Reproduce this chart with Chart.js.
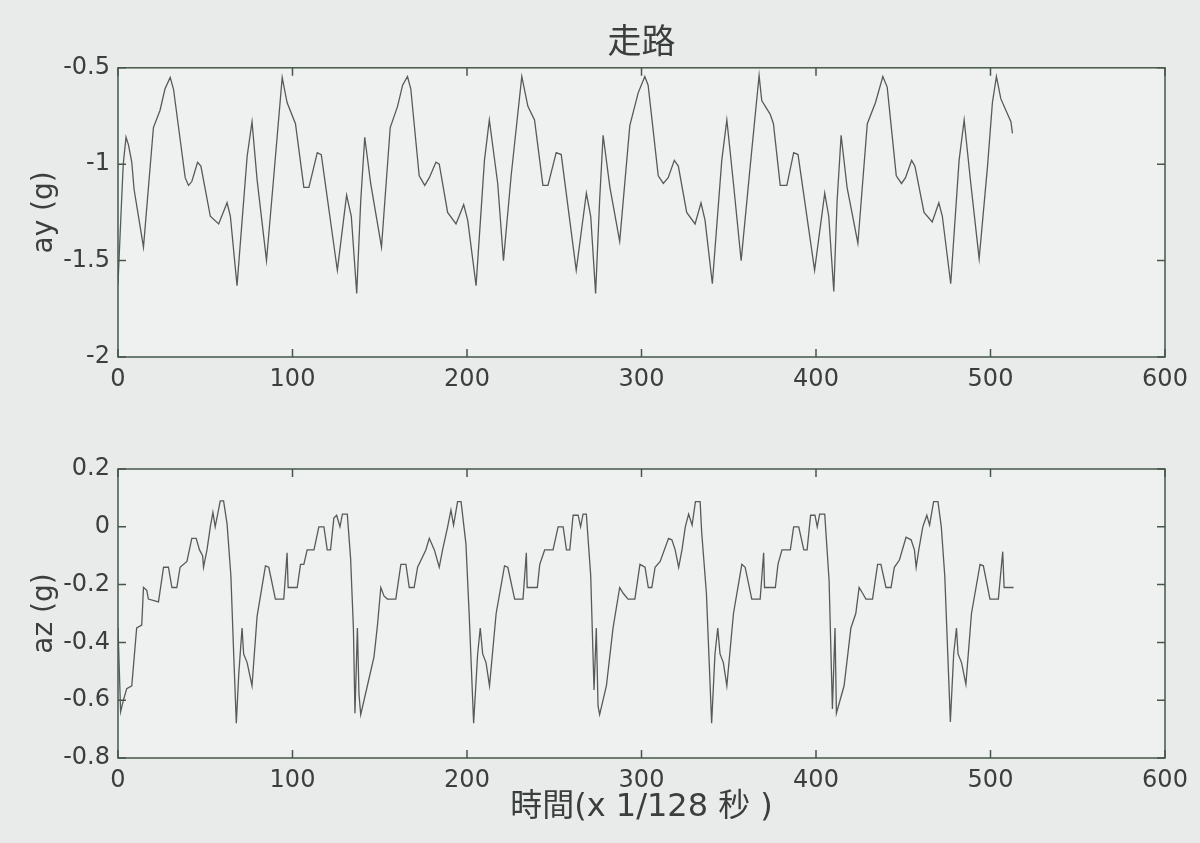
<!DOCTYPE html>
<html>
<head>
<meta charset="utf-8">
<script src="https://cdn.jsdelivr.net/npm/chart.js@4.4.0/dist/chart.umd.min.js"></script>
<style>
body{margin:0;background:#e8ebe9;width:1200px;height:843px;overflow:hidden;position:relative}
canvas{position:absolute;left:0}
#c1{top:0}
#c2{top:420px}
</style>
</head>
<body>
<canvas id="c1" width="1200" height="420"></canvas>
<canvas id="c2" width="1200" height="423"></canvas>
<script>
// 走路 - ay / az, samples at 128 Hz
var title = '走路'
var xTitle = '時間(x 1/128 秒 )'
var xTicks = [0, 100, 200, 300, 400, 500, 600]
var ayTicks = [-2, -1.5, -1, -0.5]
var azTicks = [-0.8, -0.6, -0.4, -0.2, 0, 0.2]

// ay (g) - vertices
var ayT = [0, 2, 3, 4.6, 6, 7.9, 9.2, 14.6, 20.3, 24.1, 26.9, 29.9, 31.8, 38.5, 40.4, 42.3, 45.6, 47.5, 52.9, 57.7,
	62.5, 64.4, 68.2, 74, 76.8, 79.7, 85.1, 89.3, 94.1, 96.9, 101.7, 106.5, 109.4, 114.2, 116.5, 125.7, 131, 133.7, 136.8, 139.1,
	141.4, 144.8, 151, 156, 160.2, 163.1, 165.9, 167.8, 172.6, 175.8, 178.4, 182.2, 184.1, 188.9, 193.7, 198.1, 200.4, 205.2, 210, 212.8,
	217.6, 220.9, 225.3, 231.4, 234.9, 238.7, 243.5, 246.4, 251.1, 254, 262.6, 268.4, 270.9, 273.7, 276, 278, 281.9, 287.5, 293.3, 298.1,
	301.9, 303.8, 309.6, 312.5, 315.3, 318.8, 321.1, 325.9, 330.7, 334.1, 336.4, 340.6, 346, 348.9, 352.7, 357.1, 362.3, 367.4, 368.9, 373.7,
	375.6, 379.5, 383.3, 387.2, 389.7, 399.2, 405, 407.3, 410.2, 412.1, 414.4, 417.8, 424, 429.4, 434.1, 438.3, 440.8, 446, 449, 451.3,
	454.8, 456.7, 461.9, 466.6, 470.4, 472.4, 477.2, 482, 484.9, 488.7, 493.5, 498.3, 501.1, 503.4, 505.9, 508.8, 511.7, 512.6]
var ay = [-1.62, -1.2, -1.0, -0.86, -0.9, -0.99, -1.13, -1.43, -0.81, -0.72, -0.61, -0.55, -0.61, -1.07, -1.11, -1.09, -0.99, -1.01, -1.27, -1.31,
	-1.2, -1.27, -1.63, -0.96, -0.78, -1.08, -1.5, -1.06, -0.55, -0.68, -0.79, -1.12, -1.12, -0.94, -0.95, -1.55, -1.16, -1.27, -1.67, -1.19,
	-0.86, -1.1, -1.43, -0.81, -0.7, -0.59, -0.545, -0.61, -1.06, -1.11, -1.07, -0.99, -1.0, -1.25, -1.31, -1.21, -1.29, -1.63, -0.98, -0.77,
	-1.1, -1.5, -1.06, -0.545, -0.7, -0.77, -1.11, -1.11, -0.94, -0.95, -1.55, -1.15, -1.27, -1.67, -1.19, -0.85, -1.12, -1.4, -0.8, -0.63,
	-0.545, -0.59, -1.06, -1.1, -1.07, -0.98, -1.01, -1.25, -1.31, -1.2, -1.29, -1.62, -0.98, -0.77, -1.1, -1.5, -1.01, -0.54, -0.67, -0.74,
	-0.79, -1.11, -1.11, -0.94, -0.95, -1.55, -1.15, -1.27, -1.66, -1.19, -0.85, -1.12, -1.41, -0.79, -0.68, -0.545, -0.6, -1.06, -1.1, -1.07,
	-0.98, -1.01, -1.25, -1.3, -1.2, -1.27, -1.62, -0.98, -0.77, -1.1, -1.49, -1.01, -0.68, -0.545, -0.66, -0.72, -0.78, -0.84]

// az (g)
var azT = [0, 1.5, 3.1, 5, 7.9, 10.7, 13.6, 14.6, 16.5, 17.4, 23.2, 26.1, 28.9, 30.9, 33.7, 35.6, 39.5, 42.3, 44.8, 46.7,
	48.5, 49, 51, 52.9, 54.4, 55.7, 58.6, 60.5, 62.5, 64.7, 66.3, 67.8, 69.2, 70.5, 71.1, 72, 74, 76.8, 79.7, 84.5,
	86.4, 90.2, 95, 96.9, 97.5, 102.7, 104.6, 106.5, 108.4, 112.3, 115.1, 118, 119.9, 121.8, 123.7, 125.3, 127.2, 128.6, 131.4, 133.3,
	134.9, 135.8, 137.2, 138.1, 139.1, 142.9, 146.7, 148.7, 150.6, 152.5, 154.4, 159.2, 162.1, 165, 166.9, 169.7, 171.7, 176.4, 178.4, 181.3,
	184.1, 186, 188.9, 190.8, 192.3, 194.6, 196.6, 199.4, 201.3, 203.8, 206.1, 207.6, 209, 210.9, 212.9, 216.7, 221.5, 223.4, 227.3, 232.1,
	234, 234.5, 240.3, 241.7, 244.5, 249.3, 252.2, 255.1, 257, 258.9, 260.8, 263.7, 265.1, 266.5, 268.4, 270.9, 272.8, 274.1, 275.1, 276,
	279.9, 283.7, 287.5, 289.5, 292.3, 296.2, 299.1, 302, 303.9, 305.9, 307.8, 310.7, 315.5, 317.4, 319.3, 321.3, 323.2, 325.1, 327, 329,
	330.9, 333.6, 334.5, 337.2, 340.2, 342.1, 343.7, 345, 346.9, 348.9, 352.7, 357.5, 359.4, 363.2, 368, 370, 370.5, 376.7, 378.2, 380.5,
	385.3, 387.2, 390.1, 393, 394.9, 396.9, 399.4, 400.7, 402.1, 405, 407.5, 409.4, 410.9, 411.7, 416.1, 420, 422.8, 424.7, 426.7, 428.6,
	432.4, 435.3, 437.2, 440.1, 443, 444.9, 447.8, 451.6, 454.5, 456.4, 457.4, 458.9, 461.2, 463.5, 465.1, 467.4, 469.9, 471.8, 473.8, 477,
	478.9, 480.5, 481.4, 483.4, 485.9, 489.1, 494, 495.9, 499.7, 504.5, 507, 507.8, 513.2]
var az = [-0.35, -0.64, -0.6, -0.56, -0.55, -0.35, -0.34, -0.21, -0.22, -0.25, -0.26, -0.14, -0.14, -0.21, -0.21, -0.14, -0.12, -0.04, -0.04, -0.08,
	-0.1, -0.14, -0.08, 0, 0.05, 0, 0.09, 0.09, 0.01, -0.17, -0.44, -0.68, -0.51, -0.4, -0.35, -0.44, -0.47, -0.55, -0.31, -0.135,
	-0.14, -0.25, -0.25, -0.09, -0.21, -0.21, -0.13, -0.13, -0.08, -0.08, 0, 0, -0.08, -0.08, 0.03, 0.04, 0, 0.044, 0.044, -0.11,
	-0.35, -0.645, -0.35, -0.58, -0.65, -0.55, -0.45, -0.34, -0.21, -0.24, -0.25, -0.25, -0.13, -0.13, -0.21, -0.21, -0.14, -0.08, -0.04, -0.08,
	-0.14, -0.08, 0, 0.058, 0.006, 0.087, 0.087, -0.06, -0.31, -0.68, -0.44, -0.35, -0.44, -0.47, -0.55, -0.3, -0.135, -0.14, -0.25, -0.25,
	-0.09, -0.21, -0.21, -0.13, -0.08, -0.08, 0, 0, -0.08, -0.08, 0.04, 0.04, 0, 0.044, 0.044, -0.17, -0.565, -0.35, -0.62, -0.65,
	-0.55, -0.35, -0.21, -0.23, -0.25, -0.25, -0.13, -0.14, -0.21, -0.21, -0.14, -0.12, -0.04, -0.045, -0.08, -0.14, -0.08, 0, 0.044, 0.006,
	0.087, 0.087, -0.02, -0.23, -0.68, -0.44, -0.35, -0.44, -0.47, -0.55, -0.3, -0.13, -0.14, -0.25, -0.25, -0.09, -0.21, -0.21, -0.13, -0.08,
	-0.08, 0, 0, -0.08, -0.08, 0.04, 0.04, 0, 0.044, 0.044, -0.185, -0.63, -0.35, -0.645, -0.55, -0.35, -0.3, -0.21, -0.23, -0.25,
	-0.25, -0.13, -0.13, -0.21, -0.21, -0.14, -0.115, -0.036, -0.045, -0.08, -0.14, -0.08, 0, 0.04, 0.006, 0.087, 0.087, 0, -0.17, -0.675,
	-0.44, -0.35, -0.44, -0.47, -0.545, -0.3, -0.13, -0.135, -0.25, -0.25, -0.086, -0.21, -0.21]

var axisColor = '#45574a'
var textColor = '#3a3e3c'
var latin = "'DejaVu Sans', 'Noto Sans CJK TC'"

// matlab style box: fill, frame and inward ticks on all four sides
var boxPlugin = {
	id: 'box',
	beforeDatasetsDraw(chart) {
		var a = chart.chartArea, ctx = chart.ctx
		ctx.save()
		ctx.fillStyle = '#eff1f0'
		ctx.fillRect(a.left, a.top, a.right - a.left, a.bottom - a.top)
		ctx.restore()
	},
	afterDatasetsDraw(chart) {
		var a = chart.chartArea, ctx = chart.ctx
		var len = 8
		ctx.save()
		ctx.strokeStyle = axisColor
		ctx.lineWidth = 1.5
		ctx.strokeRect(a.left, a.top, a.right - a.left, a.bottom - a.top)
		ctx.beginPath()
		chart.scales.x.ticks.forEach(function(t){
			var px = chart.scales.x.getPixelForValue(t.value)
			ctx.moveTo(px, a.bottom); ctx.lineTo(px, a.bottom - len)
			ctx.moveTo(px, a.top); ctx.lineTo(px, a.top + len)
		})
		chart.scales.y.ticks.forEach(function(t){
			var py = chart.scales.y.getPixelForValue(t.value)
			ctx.moveTo(a.left, py); ctx.lineTo(a.left + len, py)
			ctx.moveTo(a.right, py); ctx.lineTo(a.right - len, py)
		})
		ctx.stroke()
		ctx.restore()
	}
}

function makeChart(id, t, v, yTicks, yLabel, opts){
	var points = t.map(function(x, i){ return {x: x, y: v[i]} })
	return new Chart(document.getElementById(id), {
		type: 'line',
		data: {datasets: [{
			data: points,
			borderColor: '#575a58',
			borderWidth: 1.3,
			pointRadius: 0,
			tension: 0,
			fill: false
		}]},
		plugins: [boxPlugin],
		options: {
			responsive: false,
			animation: false,
			devicePixelRatio: 1,
			layout: {padding: opts.padding},
			plugins: {
				legend: {display: false},
				tooltip: {enabled: false},
				title: opts.title
			},
			scales: {
				x: {
					type: 'linear', min: 0, max: 600,
					grid: {display: false, drawTicks: false},
					border: {display: false},
					afterBuildTicks: function(s){ s.ticks = xTicks.map(function(x){ return {value: x} }) },
					afterFit: function(s){ s.height = opts.xHeight },
					ticks: {color: textColor, padding: 8, maxRotation: 0, font: {family: latin, size: 24}},
					title: opts.xTitle
				},
				y: {
					min: yTicks[0], max: yTicks[yTicks.length - 1],
					grid: {display: false, drawTicks: false},
					border: {display: false},
					afterBuildTicks: function(s){ s.ticks = yTicks.map(function(y){ return {value: y} }) },
					afterFit: function(s){ s.width = 118 },
					ticks: {color: textColor, padding: 8, font: {family: latin, size: 24},
						callback: function(val){ return String(val) }},
					title: {display: true, text: yLabel, color: textColor, padding: {top: 28, bottom: 0},
						font: {family: latin, size: 28, weight: 'normal'}}
				}
			}
		}
	})
}

makeChart('c1', ayT, ay, ayTicks, 'ay (g)', {
	padding: {top: 20, left: 0, right: 35, bottom: 0},
	xHeight: 63,
	title: {display: true, text: title, fullSize: false, color: textColor, padding: {top: 0, bottom: 7},
		font: {family: "'Noto Sans CJK TC'", size: 34, weight: 'normal', lineHeight: 1.2}},
	xTitle: {display: false}
})

makeChart('c2', azT, az, azTicks, 'az (g)', {
	padding: {top: 49, left: 0, right: 35, bottom: 10},
	xHeight: 75,
	title: {display: false},
	xTitle: {display: true, text: xTitle, color: textColor, padding: {top: 0, bottom: 6},
		font: {family: latin, size: 32, weight: 'normal', lineHeight: 1.2}}
})
</script>
</body>
</html>
